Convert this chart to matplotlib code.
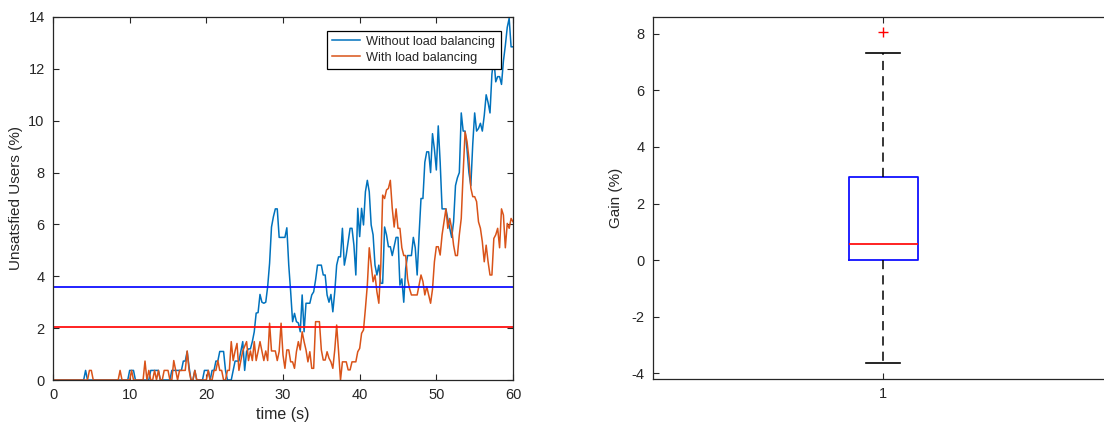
import matplotlib
matplotlib.use("Agg")
import matplotlib.pyplot as plt
import numpy as np

# amostragem a cada 0.25 s, 0..60 s
passo = 0.25

sem_balanceamento = [
    # 0 - 4.75
    0, 0, 0, 0, 0, 0, 0, 0, 0, 0, 0, 0, 0, 0, 0, 0, 0, 0.37, 0, 0,
    # 5 - 9.75
    0, 0, 0, 0, 0, 0, 0, 0, 0, 0, 0, 0, 0, 0, 0, 0, 0, 0, 0, 0,
    # 10 - 14.75
    0.37, 0.37, 0.37, 0, 0, 0, 0, 0, 0, 0, 0, 0.37, 0.37, 0.37, 0.37, 0.37, 0, 0, 0, 0,
    # 15 - 19.75
    0, 0, 0.37, 0.37, 0.37, 0.37, 0.37, 0.37, 0.73, 0.73, 1.1, 0.5, 0, 0, 0.37, 0, 0, 0, 0, 0.37,
    # 20 - 24.75
    0.37, 0.37, 0, 0.37, 0.37, 0.73, 0.73, 1.1, 1.1, 1.1, 0.37, 0, 0, 0, 0.37, 0.73, 0.73, 0.73, 1.1, 1.48,
    # 25 - 29.75
    0.37, 1.1, 1.2, 1.2, 1.48, 1.86, 2.58, 2.6, 3.3, 3.0, 2.96, 3.0, 3.6, 4.5, 5.9, 6.3, 6.6, 6.6, 5.5, 5.5,
    # 30 - 34.75
    5.5, 5.5, 5.87, 4.43, 3.4, 2.25, 2.57, 2.25, 2.2, 1.86, 3.28, 1.86, 2.96, 2.96, 2.96, 3.28, 3.4, 3.86, 4.43, 4.43,
    # 35 - 39.75
    4.43, 4.05, 4.05, 3.28, 3.0, 3.3, 2.63, 3.4, 4.43, 4.75, 4.75, 5.85, 4.43, 4.82, 5.33, 5.85, 5.85, 5.2, 4.05, 6.62,
    # 40 - 44.75
    5.53, 6.62, 5.98, 7.26, 7.7, 7.26, 5.98, 5.6, 4.43, 4.05, 4.43, 3.73, 3.73, 5.9, 5.6, 5.14, 5.14, 4.8, 5.14, 5.5,
    # 45 - 49.75
    5.5, 3.66, 3.9, 3.0, 4.3, 4.8, 4.8, 4.8, 5.5, 5.1, 4.05, 5.6, 7.0, 7.0, 8.4, 8.8, 8.8, 8.0, 9.5, 8.9,
    # 50 - 54.75
    8.1, 9.8, 8.4, 6.6, 6.6, 6.6, 6.2, 5.85, 5.5, 6.1, 7.5, 7.8, 8.0, 10.3, 9.6, 9.6, 8.9, 8.0, 7.5, 9.1,
    # 55 - 59.75
    10.3, 9.6, 9.7, 9.9, 9.6, 10.2, 11.0, 10.7, 10.3, 11.8, 12.4, 11.5, 11.7, 11.7, 11.4, 12.3, 12.9, 13.6, 13.95, 12.85,
    # 60
    12.85,
]

com_balanceamento = [
    # 0 - 4.75
    0, 0, 0, 0, 0, 0, 0, 0, 0, 0, 0, 0, 0, 0, 0, 0, 0, 0, 0, 0.37,
    # 5 - 9.75
    0.37, 0, 0, 0, 0, 0, 0, 0, 0, 0, 0, 0, 0, 0, 0, 0.37, 0, 0, 0, 0,
    # 10 - 14.75
    0, 0.37, 0, 0, 0, 0, 0, 0, 0.73, 0, 0.37, 0, 0, 0.37, 0, 0.37, 0, 0, 0.37, 0.37,
    # 15 - 19.75
    0.37, 0, 0, 0.75, 0.37, 0, 0.37, 0.37, 0.37, 0.37, 1.12, 0.37, 0, 0, 0.37, 0, 0, 0, 0, 0,
    # 20 - 24.75
    0, 0.37, 0, 0, 0.37, 0.37, 0.75, 0.37, 0.37, 0, 0, 0.37, 0.37, 1.48, 0.75, 1.12, 1.41, 0.37, 0.75, 1.12,
    # 25 - 29.75
    1.3, 1.48, 0.75, 1.12, 0.75, 1.48, 0.75, 1.1, 1.48, 1.12, 0.75, 1.12, 0.75, 2.19, 1.12, 1.12, 1.12, 0.75, 1.1, 2.19,
    # 30 - 34.75
    0.96, 0.45, 1.16, 1.16, 0.7, 0.7, 0.45, 1.09, 1.48, 1.16, 1.86, 1.48, 1.16, 0.7, 1.09, 0.45, 0.45, 2.25, 2.25, 2.25,
    # 35 - 39.75
    1.16, 0.77, 0.77, 1.09, 0.84, 0.7, 0.45, 1.16, 2.12, 1.09, 0, 0.7, 0.7, 0.7, 0.39, 0.39, 0.7, 0.7, 0.7, 1.09,
    # 40 - 44.75
    1.22, 1.8, 1.93, 2.76, 3.66, 5.1, 4.43, 3.79, 4.05, 3.4, 2.96, 4.37, 7.13, 7.0, 7.33, 7.39, 7.7, 6.62, 5.9, 6.6,
    # 45 - 49.75
    5.85, 5.85, 5.1, 4.8, 4.8, 3.9, 3.53, 3.28, 3.28, 3.28, 3.28, 3.66, 4.05, 3.8, 3.28, 3.6, 3.28, 2.96, 3.5, 4.56,
    # 50 - 54.75
    5.14, 5.14, 4.82, 5.6, 6.1, 6.6, 5.85, 6.23, 5.85, 5.2, 4.8, 4.8, 5.6, 6.23, 8.0, 9.57, 9.2, 8.55, 7.4, 7.07,
    # 55 - 59.75
    7.07, 6.88, 6.1, 5.85, 5.33, 4.56, 5.2, 4.56, 4.05, 4.05, 5.46, 5.6, 5.85, 5.1, 6.6, 6.36, 5.1, 6.04, 5.85, 6.23,
    # 60
    6.1,
]

# linhas horizontais (medias)
media_sem = 3.57
media_com = 2.05

# estatisticas do boxplot do ganho (%)
ganho_mediana = 0.55
ganho_q1 = 0.0
ganho_q3 = 2.93
ganho_min = -3.65
ganho_max = 7.33
ganho_outliers = [8.07]

tempo = np.arange(len(sem_balanceamento)) * passo

cor_txt = "#262626"
plt.rcParams["font.family"] = ["Liberation Sans", "DejaVu Sans"]
plt.rcParams["font.size"] = 10.5
plt.rcParams["axes.unicode_minus"] = False
plt.rcParams["text.color"] = cor_txt
plt.rcParams["axes.labelcolor"] = cor_txt
plt.rcParams["xtick.color"] = cor_txt
plt.rcParams["ytick.color"] = cor_txt
plt.rcParams["axes.edgecolor"] = cor_txt

fig = plt.figure(figsize=(11.04, 4.24), dpi=100)
ax1 = fig.add_axes([53 / 1104, 44 / 424, 460 / 1104, 363 / 424])
ax2 = fig.add_axes([653 / 1104, 45 / 424, 460 / 1104, 362 / 424])

ax1.plot(tempo, sem_balanceamento, color="#0072BD", lw=1.1, label="Without load balancing")
ax1.plot(tempo, com_balanceamento, color="#D95319", lw=1.1, label="With load balancing")
ax1.axhline(media_sem, color="#1010FF", lw=1.3)
ax1.axhline(media_com, color="#FF1010", lw=1.3)
ax1.set_xlim(0, 60)
ax1.set_ylim(0, 14)
ax1.set_xticks(range(0, 61, 10))
ax1.set_yticks(range(0, 15, 2))
ax1.set_xlabel("time (s)", labelpad=3, fontsize=11.5)
ax1.set_ylabel("Unsatsfied Users (%)", labelpad=4, fontsize=11)
leg = ax1.legend(loc="upper right", bbox_to_anchor=(0.973, 0.962), fancybox=False,
                 edgecolor="black", framealpha=1, fontsize=9.2, handlelength=2.2,
                 borderpad=0.4, labelspacing=0.3, handletextpad=0.5, borderaxespad=0)
leg.get_frame().set_linewidth(0.9)

stats = [{
    "med": ganho_mediana, "q1": ganho_q1, "q3": ganho_q3,
    "whislo": ganho_min, "whishi": ganho_max, "fliers": ganho_outliers,
}]
ax2.bxp(stats, positions=[1], widths=0.15,
        boxprops=dict(color="#1010FF", lw=1.3),
        medianprops=dict(color="#FF1010", lw=1.3),
        whiskerprops=dict(color="black", lw=1.1, linestyle=(0, (6, 4))),
        capprops=dict(color="black", lw=1.2),
        flierprops=dict(marker="+", markeredgecolor="#FF0000", markersize=7, linestyle="none"))
ax2.set_xlim(0.5, 1.5)
ax2.set_ylim(-4.21, 8.6)
ax2.set_yticks(range(-4, 9, 2))
ax2.set_xticks([1])
ax2.set_xticklabels(["1"])
ax2.set_ylabel("Gain (%)", labelpad=6, fontsize=11)

for ax in (ax1, ax2):
    ax.tick_params(direction="in", top=True, right=True, length=4, width=0.8,
                   labelsize=10.5, pad=6)
    for s in ax.spines.values():
        s.set_linewidth(0.9)

fig.savefig("out.png", dpi=100)
